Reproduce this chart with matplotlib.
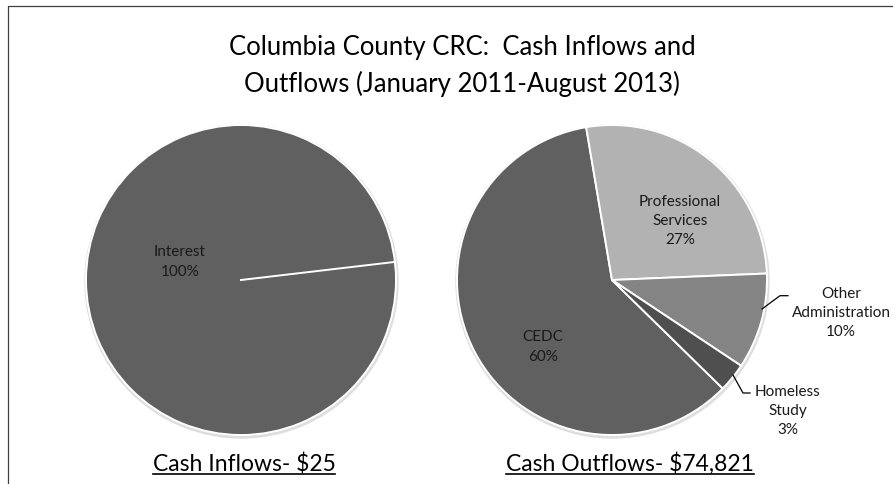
import numpy as np
import matplotlib.pyplot as plt
from matplotlib.patches import Circle

# data
inflow_labels = ['Interest']
inflow_values = [25]
outflow_labels = ['CEDC', 'Professional\nServices', 'Other\nAdministration', 'Homeless\nStudy']
outflow_pcts = [60, 27, 10, 3]
outflow_colors = ['#606060', '#b2b2b2', '#848484', '#4f4f4f']
title = 'Columbia County CRC:  Cash Inflows and\nOutflows (January 2011-August 2013)'
captions = ['Cash Inflows- $25', 'Cash Outflows- $74,821']

W, H = 893, 484
plt.rcParams['font.family'] = ['Lato', 'DejaVu Sans']

fig = plt.figure(figsize=(W / 100, H / 100), dpi=100)
ax = fig.add_axes([0, 0, 1, 1])

R = 155
c_in = (241, H - 280)
c_out = (612, H - 280)

# soft shadow behind the pies
for c in (c_in, c_out):
    ax.add_patch(Circle((c[0] + 0.5, c[1] - 1.5), R + 1.5, color='#dedede', zorder=0))

wp = dict(edgecolor='white', linewidth=1.4)
ax.pie(inflow_values, colors=['#606060'], center=c_in, radius=R,
       startangle=6.7, counterclock=False, wedgeprops=wp)
# single-slice boundary line
a = np.deg2rad(6.7)
ax.plot([c_in[0], c_in[0] + R * np.cos(a)], [c_in[1], c_in[1] + R * np.sin(a)],
        color='white', lw=1.4, zorder=5)

wedges, _ = ax.pie(outflow_pcts, colors=outflow_colors, center=c_out, radius=R,
                   startangle=-44.4, counterclock=False, wedgeprops=wp)

ax.set_xlim(0, W)
ax.set_ylim(0, H)
ax.set_aspect('auto')
ax.axis('off')

fs = 11
tc = '#1a1a1a'
ls = 1.5
ax.text(c_in[0] - 61, c_in[1] + 18, f'{inflow_labels[0]}\n100%', ha='center', va='center',
        fontsize=fs, color=tc, linespacing=ls)

label_pos = [(-69, -67), (68, 59), (229, -33), (176, -131)]
for lab, pct, (dx, dy) in zip(outflow_labels, outflow_pcts, label_pos):
    ax.text(c_out[0] + dx, c_out[1] + dy, f'{lab}\n{pct}%', ha='center', va='center',
            fontsize=fs, color=tc, linespacing=ls)

# leader lines
ax.plot([762, 780, 788], [H - 309, H - 295.7, H - 295.7], color='black', lw=0.9)
ax.plot([733, 743, 750], [H - 375, H - 393, H - 393], color='black', lw=0.9)

ax.text(462, H - 66, title, ha='center', va='center', fontsize=18.5, color='black',
        linespacing=1.55)

caps = []
for cx, cap in zip((244, 630), captions):
    caps.append(ax.text(cx, H - 464, cap, ha='center', va='center', fontsize=16.5, color='black'))

# frame
ax.plot([8, 8, W + 10], [-10, H - 6, H - 6], color='#404040', lw=0.9, clip_on=False)

fig.canvas.draw()
r = fig.canvas.get_renderer()
inv = ax.transData.inverted()
for t in caps:
    bb = t.get_window_extent(r)
    (x0, y0), (x1, y1) = inv.transform([(bb.x0, bb.y0), (bb.x1, bb.y1)])
    ax.plot([x0, x1], [y0 + 1, y0 + 1], color='black', lw=1.2)

fig.savefig('out.png', dpi=100)
